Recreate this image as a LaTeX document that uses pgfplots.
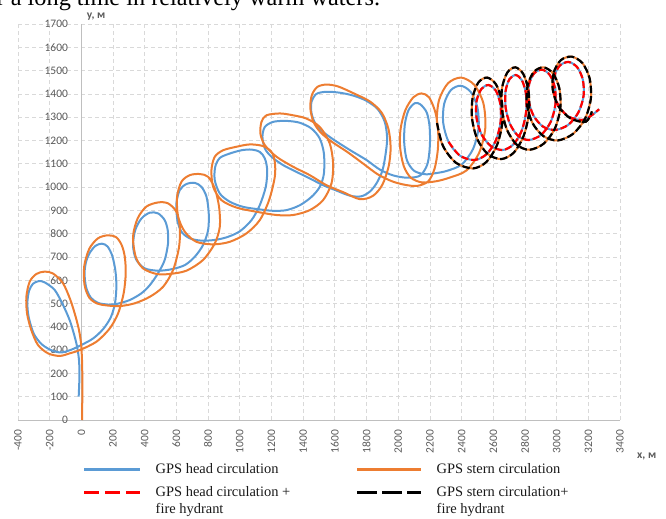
\documentclass[border=0pt]{standalone}
\usepackage{fontspec}
\setmainfont{Liberation Serif}
\newfontfamily\tickfont{Carlito}
\usepackage{pgfplots}
\usepackage{pgfplotstable}
\pgfplotsset{compat=1.18}
\definecolor{cblue}{RGB}{91,155,213}
\definecolor{corange}{RGB}{237,125,49}
\definecolor{cred}{RGB}{255,0,0}
\definecolor{tickgray}{RGB}{89,89,89}
\definecolor{gridgray}{RGB}{217,217,217}
\definecolor{axisgray}{RGB}{191,191,191}

% GPS head circulation
\pgfplotstableread{
x y
-17 100
-12 190
-15 257
-27 315
-48 372
-74 429
-116 494
-168 558
-232 591
-270 596
-305 585
-330 555
-341 501
-332 440
-300 370
-250 325
-185 298
-126 290
-63 302
0 322
74 350
137 390
185 440
212 500
221 572
215 640
195 705
165 745
130 757
90 748
55 720
30 680
20 630
30 570
60 525
105 503
160 496
221 498
305 515
379 544
432 579
484 630
526 687
547 758
545 815
526 858
484 887
432 890
379 865
340 815
326 750
345 690
400 651
484 641
568 647
653 665
716 701
768 751
800 815
804 887
790 958
758 1001
716 1018
663 1013
621 987
600 930
606 858
632 808
684 780
758 770
842 773
920 785
1000 810
1074 858
1126 922
1164 1001
1173 1073
1158 1123
1126 1151
1074 1161
1011 1158
937 1144
874 1125
845 1087
842 1030
874 972
937 937
1021 915
1126 904
1211 898
1295 901
1379 922
1453 958
1505 1001
1531 1058
1531 1144
1505 1208
1453 1251
1379 1276
1295 1284
1211 1280
1158 1258
1143 1216
1158 1166
1200 1130
1274 1094
1358 1065
1442 1037
1526 1008
1610 985
1695 963
1765 960
1820 980
1863 1016
1900 1070
1920 1140
1930 1210
1915 1280
1870 1335
1800 1370
1720 1392
1632 1405
1547 1409
1484 1400
1453 1366
1452 1320
1475 1275
1520 1240
1589 1205
1695 1159
1800 1116
1884 1075
1968 1050
2060 1040
2140 1050
2185 1100
2200 1180
2198 1260
2180 1320
2140 1355
2105 1360
2065 1330
2042 1270
2038 1190
2055 1115
2100 1070
2170 1055
2240 1060
2310 1070
2401 1097
2472 1163
2507 1253
2500 1342
2458 1408
2395 1435
2332 1416
2290 1357
2284 1276
2318 1194
2389 1135
2480 1116
2556 1140
2615 1198
2646 1277
2645 1355
2616 1414
2570 1438
2525 1421
2495 1370
2494 1298
2525 1227
2585 1176
2660 1159
2727 1183
2779 1241
2807 1320
2807 1398
2782 1457
2743 1481
2703 1464
2678 1413
2678 1341
2706 1270
2758 1219
2825 1202
2902 1224
2962 1279
2992 1353
2989 1426
2957 1481
2908 1504
2858 1488
2826 1441
2823 1374
2853 1308
2913 1260
2990 1245
3073 1267
3137 1320
3170 1391
3165 1462
3129 1515
3075 1537
3021 1522
2985 1476
2981 1412
3013 1348
3077 1302
3160 1288
3215 1305
3268 1334
}\headT

% GPS head circulation + fire hydrant
\pgfplotstableread{
x y
2318 1194
2389 1135
2480 1116
2556 1140
2615 1198
2646 1277
2645 1355
2616 1414
2570 1438
2525 1421
2495 1370
2494 1298
2525 1227
2585 1176
2660 1159
2727 1183
2779 1241
2807 1320
2807 1398
2782 1457
2743 1481
2703 1464
2678 1413
2678 1341
2706 1270
2758 1219
2825 1202
2902 1224
2962 1279
2992 1353
2989 1426
2957 1481
2908 1504
2858 1488
2826 1441
2823 1374
2853 1308
2913 1260
2990 1245
3073 1267
3137 1320
3170 1391
3165 1462
3129 1515
3075 1537
3021 1522
2985 1476
2981 1412
3013 1348
3077 1302
3160 1288
3215 1305
3268 1334
}\headFT

% GPS stern circulation
\pgfplotstableread{
x y
4 0
6 100
6 186
4 258
-2 329
-15 386
-36 443
-69 515
-116 587
-179 629
-232 637
-284 627
-326 594
-347 530
-343 458
-316 386
-274 322
-210 286
-137 275
-74 286
-11 300
95 336
179 393
232 458
267 544
280 629
274 701
255 750
221 784
168 793
105 780
50 735
18 660
20 580
50 525
100 500
158 492
242 489
337 501
432 529
516 572
579 644
617 744
621 830
600 894
547 930
484 934
410 916
355 865
326 787
343 701
389 651
474 627
558 627
663 641
768 687
842 758
874 830
869 916
842 994
800 1044
747 1056
684 1051
632 1023
604 958
611 873
653 808
726 765
832 754
937 765
1042 801
1126 858
1185 944
1221 1044
1221 1108
1200 1151
1147 1176
1063 1183
979 1173
895 1158
842 1130
821 1073
832 1001
884 944
979 912
1105 894
1232 880
1337 880
1442 901
1526 944
1579 1016
1589 1101
1568 1187
1505 1258
1421 1294
1337 1308
1253 1316
1168 1308
1137 1280
1130 1230
1158 1180
1232 1130
1337 1087
1442 1051
1547 1008
1653 978
1758 948
1840 962
1900 1010
1940 1090
1952 1170
1938 1250
1895 1320
1820 1368
1720 1402
1620 1432
1547 1440
1490 1430
1455 1395
1445 1340
1465 1280
1510 1235
1580 1195
1680 1150
1780 1100
1870 1055
1960 1025
2040 1010
2120 1005
2190 1025
2230 1080
2250 1160
2252 1240
2235 1320
2195 1385
2147 1402
2095 1385
2045 1330
2015 1250
2012 1170
2035 1090
2080 1040
2150 1020
2240 1025
2322 1040
2430 1071
2512 1149
2550 1255
2537 1361
2480 1439
2397 1470
2315 1446
2258 1374
2245 1275
2283 1176
2365 1104
2472 1080
2557 1108
2623 1179
2657 1275
2653 1371
2616 1442
2561 1470
2506 1449
2470 1384
2466 1295
2499 1206
2565 1142
2650 1120
2730 1148
2792 1220
2825 1317
2822 1414
2789 1486
2739 1514
2689 1492
2656 1427
2654 1337
2686 1247
2748 1182
2828 1160
2918 1186
2988 1250
3023 1337
3017 1424
2977 1488
2917 1514
2857 1495
2817 1437
2812 1357
2846 1277
2916 1219
3006 1200
3103 1228
3179 1293
3216 1380
3208 1467
3163 1532
3095 1560
3027 1545
2982 1493
2975 1420
3011 1347
3087 1295
3184 1280
3223 1325
}\sternT

% GPS stern circulation + fire hydrant
\pgfplotstableread{
x y
2245 1275
2283 1176
2365 1104
2472 1080
2557 1108
2623 1179
2657 1275
2653 1371
2616 1442
2561 1470
2506 1449
2470 1384
2466 1295
2499 1206
2565 1142
2650 1120
2730 1148
2792 1220
2825 1317
2822 1414
2789 1486
2739 1514
2689 1492
2656 1427
2654 1337
2686 1247
2748 1182
2828 1160
2918 1186
2988 1250
3023 1337
3017 1424
2977 1488
2917 1514
2857 1495
2817 1437
2812 1357
2846 1277
2916 1219
3006 1200
3103 1228
3179 1293
3216 1380
3208 1467
3163 1532
3095 1560
3027 1545
2982 1493
2975 1420
3011 1347
3087 1295
3184 1280
3223 1325
}\sternFT

\begin{document}
\begin{tikzpicture}
\begin{axis}[
  at={(0,0)}, anchor=south west,
  width=602bp, height=396bp, scale only axis,
  xmin=-400, xmax=3400, ymin=0, ymax=1700,
  xtick distance=200, ytick distance=100,
  axis x line=bottom, axis y line=left,
  axis line style={-, draw=axisgray, line width=0.75bp},
  every outer x axis line/.append style={-},
  every outer y axis line/.append style={-},
  y axis line style={draw=none},
  grid=major,
  major grid style={draw=gridgray, dash pattern=on 4bp off 3bp, line width=0.75bp},
  extra x ticks={0},
  extra x tick labels={},
  extra x tick style={grid=major, major grid style={draw=axisgray, solid, line width=0.75bp}},
  tick style={draw=none},
  scaled ticks=false,
  /pgf/number format/1000 sep={},
  /pgf/number format/assume math mode=true,
  ticklabel style={font=\tickfont\fontsize{11.5}{12}\selectfont, text=tickgray},
  xticklabel style={rotate=90, anchor=east, inner xsep=7.5bp},
  yticklabel style={anchor=east, inner xsep=11.5bp, xshift=63.7bp},
  legend columns=2,
  legend cell align=left,
  legend style={at={(0.108,-0.11)}, anchor=north west, draw=none, fill=none,
    inner sep=0pt, font=\fontsize{14.5}{17}\selectfont, text=black!90,
    cells={anchor=base west},
    nodes={inner sep=0pt, text depth=0pt},
    /tikz/every odd column/.append style={column sep=14bp},
    /tikz/every even column/.append style={column sep=66bp},
    row sep=13bp},
]
\addplot[cblue, line width=2bp, smooth, line join=round,
  legend image code/.code={\draw[cblue, line width=2.5bp] (0bp,4.5bp) -- (56bp,4.5bp);}]
  table {\headT};
\addlegendentry{GPS head circulation}
\addplot[corange, line width=2bp, smooth, line join=round,
  legend image code/.code={\draw[corange, line width=2.5bp] (0bp,4.5bp) -- (64bp,4.5bp);}]
  table {\sternT};
\addlegendentry{GPS stern circulation}
\addplot[cred, line width=2.2bp, smooth, dash pattern=on 7bp off 3bp,
  legend image code/.code={\draw[cred, line width=2.5bp, dash pattern=on 15bp off 6bp] (0bp,4.5bp) -- (56bp,4.5bp);}]
  table {\headFT};
\addlegendentry{\vtop{\hbox{GPS head circulation +}\hbox{fire hydrant}}}
\addplot[black, line width=2.2bp, smooth, dash pattern=on 7.5bp off 3bp,
  legend image code/.code={\draw[black, line width=2.5bp, dash pattern=on 20bp off 5bp] (0bp,4.5bp) -- (64bp,4.5bp);}]
  table {\sternFT};
\addlegendentry{\vtop{\hbox{GPS stern circulation+}\hbox{fire hydrant}}}
\end{axis}
\node[anchor=west, font=\tickfont\bfseries\fontsize{11.5}{12}\selectfont, text=tickgray, inner sep=0pt]
  at (619bp,-36bp) {x, м};
\node[anchor=west, font=\tickfont\bfseries\fontsize{11.5}{12}\selectfont, text=tickgray, inner sep=0pt]
  at (68.7bp,403bp) {y, м};
\begin{scope}
\clip (-18bp,-99bp) rectangle (648bp,420bp);
\node[anchor=base west, inner sep=0pt, font=\fontsize{24.4}{28}\selectfont] at (-41.8bp,414bp) {for a long time in relatively warm waters.};
\end{scope}
\pgfresetboundingbox
\path[use as bounding box] (-18bp,-99bp) rectangle (648bp,420bp);
\end{tikzpicture}
\end{document}
